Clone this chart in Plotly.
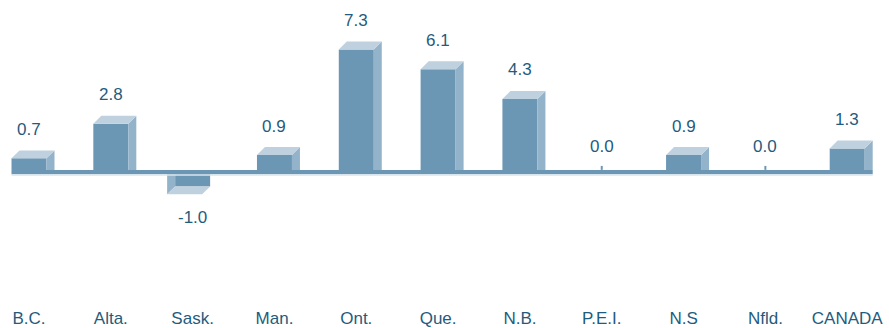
import plotly.graph_objects as go

categories = ["B.C.", "Alta.", "Sask.", "Man.", "Ont.", "Que.", "N.B.", "P.E.I.", "N.S", "Nfld.", "CANADA"]
values = [0.7, 2.8, -1.0, 0.9, 7.3, 6.1, 4.3, 0.0, 0.9, 0.0, 1.3]

FRONT = "#6b97b4"
TOP = "#bfd1df"
SIDE = "#93b3ca"
LIGHT = "#d9e4ec"
TEXT = "#1f5c7d"
FONT = "Liberation Sans, Arial, sans-serif"

W, H = 889, 328
MB = 20
PX_X = 81.82          # pixels per category step
X0_PX = 29.0          # pixel position of first category
S = 16.6              # pixels per unit of value
ZERO_PX = 171.0       # pixel row of zero line
HP = H - MB

xr0 = -X0_PX / PX_X
xr1 = xr0 + W / PX_X
yr1 = ZERO_PX / S
yr0 = -(HP - ZERO_PX) / S

HALF = 17.5 / PX_X    # half bar width (data units)
DX = 8 / PX_X         # depth offsets
DY = 8 / S
BASE_T = 4.5 / S
idx = list(range(len(categories)))

fig = go.Figure()
fig.add_trace(go.Bar(x=idx, y=values, width=2 * HALF, marker=dict(color=FRONT, line=dict(width=0)),
                     hoverinfo="skip"))

shapes = []

def poly(pts, color):
    d = "M " + " L ".join(f"{x},{y}" for x, y in pts) + " Z"
    return dict(type="path", path=d, xref="x", yref="y", fillcolor=color, line=dict(width=0), layer="above")

for i, v in zip(idx, values):
    l, r = i - HALF, i + HALF
    if v > 0:
        shapes.append(poly([(r, 0), (r, v), (r + DX, v + DY), (r + DX, 0)], SIDE))
        shapes.append(poly([(l, v), (r, v), (r + DX, v + DY), (l + DX, v + DY)], TOP))
    elif v < 0:
        shapes.append(poly([(l, 0), (l, v), (l - DX, v - DY), (l - DX, 0)], SIDE))
        shapes.append(poly([(l, v), (r, v), (r - DX, v - DY), (l - DX, v - DY)], TOP))
    else:
        shapes.append(dict(type="line", xref="x", yref="y", x0=i, x1=i, y0=0, y1=4 / S,
                           line=dict(color=FRONT, width=2), layer="above"))

# baseline
bl, br = idx[0] - HALF, idx[-1] + HALF + DX
shapes.append(dict(type="rect", xref="x", yref="y", x0=bl, x1=br, y0=-BASE_T, y1=0,
                   fillcolor=FRONT, line=dict(width=0), layer="above"))
shapes.append(dict(type="rect", xref="x", yref="y", x0=bl, x1=br, y0=-BASE_T - 1.5 / S, y1=-BASE_T,
                   fillcolor=LIGHT, line=dict(width=0), layer="above"))

annotations = []
for i, v in zip(idx, values):
    if v > 0:
        ys = 29
    elif v == 0:
        ys = 23
    else:
        ys = -27 - 4.5
    annotations.append(dict(x=i, y=v, xref="x", yref="y", text=f"{v:.1f}", showarrow=False,
                            yanchor="middle", xanchor="center", yshift=ys,
                            font=dict(family=FONT, size=17, color=TEXT)))

fig.update_layout(
    width=W, height=H, margin=dict(l=0, r=0, t=0, b=MB),
    paper_bgcolor="white", plot_bgcolor="white",
    showlegend=False, shapes=shapes, annotations=annotations,
    xaxis=dict(range=[xr0, xr1], tickvals=idx, ticktext=categories, showgrid=False, zeroline=False,
               showline=False, ticks="", tickfont=dict(family=FONT, size=17, color=TEXT), fixedrange=True),
    yaxis=dict(range=[yr0, yr1], showgrid=False, zeroline=False, showline=False, showticklabels=False,
               fixedrange=True),
)

fig.write_html("out.html")
